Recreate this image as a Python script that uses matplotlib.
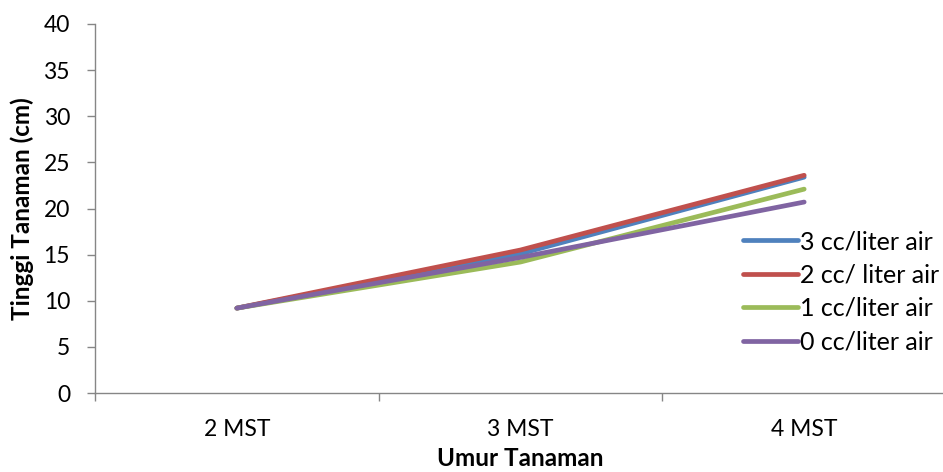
import matplotlib
matplotlib.use("Agg")
import matplotlib.pyplot as plt

plt.rcParams["font.family"] = ["Lato", "DejaVu Sans"]

# ── Data ──────────────────────────────────────────────────────────────────────
categories = ["2 MST", "3 MST", "4 MST"]
series_names = ["3 cc/liter air", "2 cc/ liter air", "1 cc/liter air", "0 cc/liter air"]
dose_3 = [9.2, 15.1, 23.4]
dose_2 = [9.2, 15.5, 23.6]
dose_1 = [9.2, 14.2, 22.1]
dose_0 = [9.2, 14.7, 20.7]
series_values = [dose_3, dose_2, dose_1, dose_0]
colors = ["#4F81BD", "#C0504D", "#9BBB59", "#8064A2"]
y_ticks = [0, 5, 10, 15, 20, 25, 30, 35, 40]

# ── Canvas ────────────────────────────────────────────────────────────────────
W, H = 943, 472
fig = plt.figure(figsize=(W / 100, H / 100), dpi=100)
fig.patch.set_facecolor("white")
ax = fig.add_axes([95 / W, (H - 393) / H, (946 - 95) / W, (393 - 24) / H])

x = range(len(categories))
for name, vals, c in zip(series_names, series_values, colors):
    ax.plot(x, vals, color=c, lw=3.4, solid_capstyle="round", label=name)

ax.set_xlim(-0.5, len(categories) - 0.5)
ax.set_ylim(0, 40)
ax.set_yticks(y_ticks)
ax.set_xticks(list(x))
ax.set_xticklabels(categories)
ax.set_xticks([i - 0.5 for i in range(len(categories) + 1)], minor=True)

grey = "#868686"
for s in ("top", "right"):
    ax.spines[s].set_visible(False)
for s in ("left", "bottom"):
    ax.spines[s].set_color(grey)
    ax.spines[s].set_linewidth(1.0)

ax.tick_params(axis="y", direction="out", length=6, width=1, color=grey,
               labelsize=16.5, pad=12, labelcolor="black")
ax.tick_params(axis="x", which="major", length=0, labelsize=16.5, pad=19)
ax.tick_params(axis="x", which="minor", direction="out", length=6, width=1, color=grey)

ax.set_ylabel("Tinggi Tanaman (cm)", fontsize=17.5, fontweight="bold", labelpad=7)
ax.set_xlabel("Umur Tanaman", fontsize=17.5, fontweight="bold", labelpad=5)

leg = ax.legend(loc="upper left", bbox_to_anchor=(743 / W, (H - 230) / H),
                bbox_transform=fig.transFigure, frameon=False, fontsize=18,
                handlelength=2.2, handletextpad=0.1, labelspacing=0.42,
                borderaxespad=0, borderpad=0)

fig.savefig("out.png", dpi=100, facecolor="white")
plt.close(fig)
